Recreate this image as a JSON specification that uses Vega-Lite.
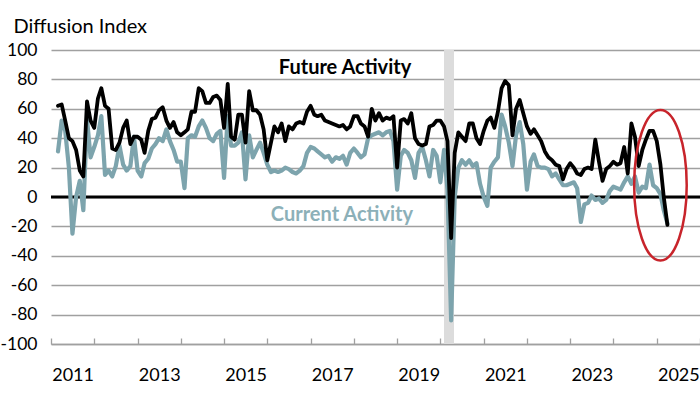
{
 "$schema": "https://vega.github.io/schema/vega-lite/v6.json",
 "width": 649, "height": 294,
 "autosize": {"type": "none"},
 "padding": {"left": 51, "top": 50, "right": 0, "bottom": 50},
 "background": "white",
 "config": {"view": {"stroke": null}, "font": "Lato"},
 "datasets": {
  "m": [
   {"d":"2011-03","f":62,"c":31},{"d":"2011-04","f":63,"c":52},{"d":"2011-05","f":52,"c":45},{"d":"2011-06","f":40,"c":20},{"d":"2011-07","f":38,"c":-25},{"d":"2011-08","f":32,"c":0},{"d":"2011-09","f":18,"c":11},{"d":"2011-10","f":14,"c":-9},{"d":"2011-11","f":65,"c":53},{"d":"2011-12","f":52,"c":27},
   {"d":"2012-01","f":47,"c":34},{"d":"2012-02","f":67,"c":42},{"d":"2012-03","f":74,"c":55},{"d":"2012-04","f":62,"c":15},{"d":"2012-05","f":60,"c":18},{"d":"2012-06","f":33,"c":14},{"d":"2012-07","f":32,"c":21},{"d":"2012-08","f":37,"c":35},{"d":"2012-09","f":47,"c":22},{"d":"2012-10","f":52,"c":18},{"d":"2012-11","f":36,"c":21},{"d":"2012-12","f":41,"c":41},
   {"d":"2013-01","f":41,"c":18},{"d":"2013-02","f":39,"c":14},{"d":"2013-03","f":30,"c":23},{"d":"2013-04","f":45,"c":26},{"d":"2013-05","f":53,"c":33},{"d":"2013-06","f":54,"c":36},{"d":"2013-07","f":59,"c":40},{"d":"2013-08","f":61,"c":38},{"d":"2013-09","f":52,"c":46},{"d":"2013-10","f":47,"c":38},{"d":"2013-11","f":51,"c":32},{"d":"2013-12","f":44,"c":24},
   {"d":"2014-01","f":42,"c":24},{"d":"2014-02","f":44,"c":6},{"d":"2014-03","f":46,"c":40},{"d":"2014-04","f":58,"c":42},{"d":"2014-05","f":58,"c":41},{"d":"2014-06","f":74,"c":48},{"d":"2014-07","f":72,"c":52},{"d":"2014-08","f":64,"c":47},{"d":"2014-09","f":64,"c":40},{"d":"2014-10","f":68,"c":38},{"d":"2014-11","f":69,"c":43},{"d":"2014-12","f":66,"c":45},
   {"d":"2015-01","f":47,"c":13},{"d":"2015-02","f":77,"c":55},{"d":"2015-03","f":41,"c":35},{"d":"2015-04","f":39,"c":35},{"d":"2015-05","f":56,"c":37},{"d":"2015-06","f":56,"c":44},{"d":"2015-07","f":37,"c":12},{"d":"2015-08","f":72,"c":42},{"d":"2015-09","f":59,"c":27},{"d":"2015-10","f":59,"c":32},{"d":"2015-11","f":56,"c":37},{"d":"2015-12","f":46,"c":30},
   {"d":"2016-01","f":25,"c":22},{"d":"2016-02","f":37,"c":17},{"d":"2016-03","f":48,"c":18},{"d":"2016-04","f":44,"c":17},{"d":"2016-05","f":50,"c":18},{"d":"2016-06","f":38,"c":20},{"d":"2016-07","f":48,"c":19},{"d":"2016-08","f":46,"c":17},{"d":"2016-09","f":50,"c":16},{"d":"2016-10","f":51,"c":18},{"d":"2016-11","f":50,"c":21},{"d":"2016-12","f":58,"c":30},
   {"d":"2017-01","f":62,"c":34},{"d":"2017-02","f":56,"c":33},{"d":"2017-03","f":55,"c":31},{"d":"2017-04","f":56,"c":29},{"d":"2017-05","f":52,"c":27},{"d":"2017-06","f":51,"c":28},{"d":"2017-07","f":50,"c":24},{"d":"2017-08","f":49,"c":27},{"d":"2017-09","f":48,"c":26},{"d":"2017-10","f":49,"c":28},{"d":"2017-11","f":46,"c":22},{"d":"2017-12","f":48,"c":30},
   {"d":"2018-01","f":55,"c":33},{"d":"2018-02","f":55,"c":30},{"d":"2018-03","f":50,"c":27},{"d":"2018-04","f":48,"c":29},{"d":"2018-05","f":41,"c":40},{"d":"2018-06","f":60,"c":42},{"d":"2018-07","f":52,"c":43},{"d":"2018-08","f":57,"c":44},{"d":"2018-09","f":52,"c":42},{"d":"2018-10","f":54,"c":44},{"d":"2018-11","f":53,"c":45},{"d":"2018-12","f":55,"c":38},
   {"d":"2019-01","f":20,"c":5},{"d":"2019-02","f":52,"c":28},{"d":"2019-03","f":53,"c":32},{"d":"2019-04","f":50,"c":30},{"d":"2019-05","f":57,"c":25},{"d":"2019-06","f":40,"c":13},{"d":"2019-07","f":36,"c":30},{"d":"2019-08","f":35,"c":34},{"d":"2019-09","f":36,"c":25},{"d":"2019-10","f":48,"c":14},{"d":"2019-11","f":49,"c":32},{"d":"2019-12","f":52,"c":28},
   {"d":"2020-01","f":52,"c":10},{"d":"2020-02","f":48,"c":32},{"d":"2020-03","f":38,"c":5},{"d":"2020-04","f":-28,"c":-84},{"d":"2020-05","f":30,"c":0},{"d":"2020-06","f":44,"c":20},{"d":"2020-07","f":41,"c":25},{"d":"2020-08","f":38,"c":22},{"d":"2020-09","f":50,"c":25},{"d":"2020-10","f":50,"c":21},{"d":"2020-11","f":40,"c":23},{"d":"2020-12","f":36,"c":9},
   {"d":"2021-01","f":45,"c":0},{"d":"2021-02","f":52,"c":-6},{"d":"2021-03","f":54,"c":20},{"d":"2021-04","f":47,"c":24},{"d":"2021-05","f":58,"c":27},{"d":"2021-06","f":74,"c":56},{"d":"2021-07","f":79,"c":48},{"d":"2021-08","f":76,"c":37},{"d":"2021-09","f":42,"c":21},{"d":"2021-10","f":60,"c":42},{"d":"2021-11","f":66,"c":51},{"d":"2021-12","f":57,"c":36},
   {"d":"2022-01","f":48,"c":5},{"d":"2022-02","f":43,"c":24},{"d":"2022-03","f":46,"c":29},{"d":"2022-04","f":42,"c":21},{"d":"2022-05","f":38,"c":20},{"d":"2022-06","f":31,"c":20},{"d":"2022-07","f":27,"c":19},{"d":"2022-08","f":25,"c":14},{"d":"2022-09","f":22,"c":16},{"d":"2022-10","f":21,"c":12},{"d":"2022-11","f":12,"c":8},{"d":"2022-12","f":19,"c":8},
   {"d":"2023-01","f":23,"c":9},{"d":"2023-02","f":20,"c":10},{"d":"2023-03","f":16,"c":6},{"d":"2023-04","f":15,"c":-17},{"d":"2023-05","f":19,"c":-5},{"d":"2023-06","f":20,"c":-4},{"d":"2023-07","f":19,"c":1},{"d":"2023-08","f":39,"c":-2},{"d":"2023-09","f":24,"c":-1},{"d":"2023-10","f":11,"c":-4},{"d":"2023-11","f":19,"c":-2},{"d":"2023-12","f":21,"c":4},
   {"d":"2024-01","f":24,"c":7},{"d":"2024-02","f":22,"c":6},{"d":"2024-03","f":23,"c":5},{"d":"2024-04","f":34,"c":10},{"d":"2024-05","f":16,"c":14},{"d":"2024-06","f":50,"c":9},{"d":"2024-07","f":41,"c":14},{"d":"2024-08","f":21,"c":3},{"d":"2024-09","f":32,"c":7},{"d":"2024-10","f":39,"c":6},{"d":"2024-11","f":45,"c":22},{"d":"2024-12","f":45,"c":8},
   {"d":"2025-01","f":38,"c":6},{"d":"2025-02","f":22,"c":2},{"d":"2025-03","f":0,"c":-9},{"d":"2025-04","f":-19,"c":-18}
  ]
 },
 "layer": [
  {
   "data": {"values": [{"s": "2020-02-01", "e": "2020-04-25"}]},
   "mark": {"type": "rect", "color": "#dcdcdc"},
   "encoding": {
    "x": {"field": "s", "type": "temporal",
     "scale": {"type": "utc", "domain": [{"year": 2011, "month": 1, "date": 1, "utc": true}, {"year": 2026, "month": 1, "date": 1, "utc": true}]},
     "axis": {"title": null, "tickCount": {"interval": "year", "step": 1},
      "labelExpr": "utcyear(datum.value) % 2 == 1 ? utcFormat(datum.value, '%Y') : ''",
      "labelOffset": 21.6, "labelFont": "Lato", "labelFontSize": 18, "labelColor": "#000000",
      "labelPadding": 28, "labelOverlap": false, "labelBound": false, "labelFlush": false,
      "tickSize": -6, "tickColor": "#a0a0a0", "tickWidth": 1.3,
      "domainColor": "#a0a0a0", "domainWidth": 1.5, "grid": false}},
    "x2": {"field": "e"}
   }
  },
  {
   "data": {"values": [{"z": 0}]},
   "mark": {"type": "rule", "color": "#000000", "strokeWidth": 3},
   "encoding": {"y": {"field": "z", "type": "quantitative",
     "scale": {"domain": [-100, 100], "nice": false, "zero": false},
     "axis": {"values": [-100, -80, -60, -40, -20, 0, 20, 40, 60, 80, 100], "tickCount": 11,
      "labelExpr": "(datum.value < 0 ? '-' : '') + abs(datum.value)",
      "title": "Diffusion Index", "titleAngle": 0, "titleAlign": "left", "titleBaseline": "alphabetic",
      "titleX": -38, "titleY": -18, "titleFont": "Lato", "titleFontSize": 20, "titleFontWeight": "normal", "titleColor": "#000000",
      "labelFont": "Lato", "labelFontSize": 17.5, "labelColor": "#000000", "labelPadding": 14,
      "labelOverlap": false, "labelBound": false, "labelFlush": false,
      "ticks": false, "domain": false, "grid": true, "gridColor": "#a0a0a0", "gridWidth": 1.3}}}
  },
  {
   "data": {"name": "m"},
   "mark": {"type": "line", "color": "#7da4ad", "strokeWidth": 4.2, "strokeJoin": "round", "strokeCap": "round"},
   "encoding": {
    "x": {"field": "d", "type": "temporal"},
    "y": {"field": "c", "type": "quantitative"}
   }
  },
  {
   "data": {"name": "m"},
   "mark": {"type": "line", "color": "#000000", "strokeWidth": 3.8, "strokeJoin": "round", "strokeCap": "round"},
   "encoding": {
    "x": {"field": "d", "type": "temporal"},
    "y": {"field": "f", "type": "quantitative"}
   }
  },
  {
   "data": {"values": [{"d": "2017-10-18", "v": 88, "t": "Future Activity"}]},
   "mark": {"type": "text", "font": "Lato", "fontSize": 20, "fontWeight": "bold", "color": "#000000", "baseline": "middle", "align": "center"},
   "encoding": {
    "x": {"field": "d", "type": "temporal"},
    "y": {"field": "v", "type": "quantitative"},
    "text": {"field": "t"}
   }
  },
  {
   "data": {"values": [{"d": "2017-09-22", "v": -12, "t": "Current Activity"}]},
   "mark": {"type": "text", "font": "Lato", "fontSize": 20, "fontWeight": "bold", "color": "#8cb0b8", "baseline": "middle", "align": "center"},
   "encoding": {
    "x": {"field": "d", "type": "temporal"},
    "y": {"field": "v", "type": "quantitative"},
    "text": {"field": "t"}
   }
  },
  {
   "data": {"values": [{"d": "2025-02-01", "v": 8}]},
   "mark": {"type": "point", "filled": false, "fill": null, "stroke": "#c8242b", "strokeWidth": 2.5, "opacity": 1, "size": 22680,
    "shape": "M0,-1C0.1929,-1,0.349,-0.5523,0.349,0C0.349,0.5523,0.1929,1,0,1C-0.1929,1,-0.349,0.5523,-0.349,0C-0.349,-0.5523,-0.1929,-1,0,-1Z"},
   "encoding": {
    "x": {"field": "d", "type": "temporal"},
    "y": {"field": "v", "type": "quantitative"}
   }
  }
 ]
}
